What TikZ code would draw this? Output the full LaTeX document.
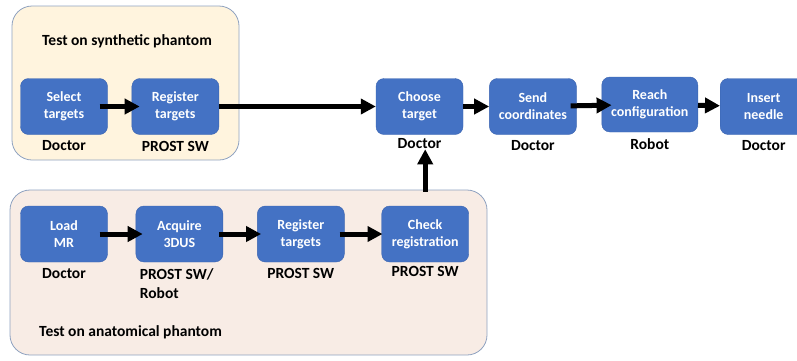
\documentclass[tikz,border=0pt]{standalone}
\usepackage{fontspec}
\setmainfont{Carlito}
\usetikzlibrary{arrows.meta,positioning,backgrounds}
\definecolor{boxblue}{HTML}{4472C4}
\definecolor{boxedge}{HTML}{3B64B0}
\definecolor{cream}{HTML}{FFF4DE}
\definecolor{peach}{HTML}{F8ECE5}
\definecolor{frame}{HTML}{8FA2C0}
\tikzset{
  task/.style={rectangle,rounded corners=8pt,draw=boxedge,fill=boxblue,
               minimum width=87pt,minimum height=56pt,
               font=\fontsize{14}{17}\selectfont\bfseries,align=center,
               text=white,inner sep=2pt},
  who/.style={font=\fontsize{15.5}{19}\selectfont\bfseries,inner sep=0pt},
  ttl/.style={font=\fontsize{15.5}{18}\selectfont\bfseries,inner sep=0pt},
  arr/.style={-{Triangle[length=15pt,width=15pt]},line width=5pt},
  grp/.style={rounded corners=20pt,draw=frame,fill=#1,line width=0.8pt},
}
\begin{document}
\begin{tikzpicture}[x=1pt,y=-1pt,node distance=24pt]
  \useasboundingbox (0,0) rectangle (797,360);

  %% ── synthetic phantom steps ──────────────────────────────────────────────
  \node[task] (sel) at (64,106.5) {Select\\targets};
  \node[task,right=24pt of sel] (regA) {Register\\targets};

  %% ── common steps ─────────────────────────────────────────────────────────
  \node[task] (choose) at (419.5,106.5) {Choose\\target};
  \node[task,right=26pt of choose] (send) {Send\\coordinates};
  \node[task,right=25pt of send,minimum width=96pt,minimum height=55pt,
        yshift=2pt] (reach) {Reach\\configuration};
  \node[task,right=22pt of reach,yshift=-2pt] (insert) {Insert\\needle};

  %% ── anatomical phantom steps ─────────────────────────────────────────────
  \node[task] (load) at (64,234) {Load\\MR};
  \node[task,right=28pt of load] (acq) {Acquire\\3DUS};
  \node[task,right=34pt of acq] (regB) {Register\\targets};
  \node[task,right=37pt of regB] (check) {Check\\registration};

  %% ── who does it ──────────────────────────────────────────────────────────
  \node[who,below=6pt of sel]    (selw)    {Doctor};
  \node[who,below=6pt of regA]   (regAw)   {PROST SW};
  \node[who,below=4pt of choose] (choosew) {Doctor};
  \node[who,below=6pt of send]   (sendw)   {Doctor};
  \node[who,below=6pt of reach]  (reachw)  {Robot};
  \node[who,below=6pt of insert] (insertw) {Doctor};
  \node[who,below=6pt of load]   (loadw)   {Doctor};
  \node[who,align=left,below right=6pt and 4pt of acq.south west]
        (acqw) {PROST SW/\\Robot};
  \node[who,below=6pt of regB]   (regBw)   {PROST SW};
  \node[who,below=4pt of check]  (checkw)  {PROST SW};

  %% ── group titles ─────────────────────────────────────────────────────────
  \node[ttl] (synth) at (127,41) {Test on synthetic phantom};
  \node[ttl,anchor=west] (anat) at (39,332) {Test on anatomical phantom};

  %% ── arrows ───────────────────────────────────────────────────────────────
  \draw[arr,shorten <=-8pt,shorten >=-8pt] (sel) -- (regA);
  \draw[arr] (regA) -- (choose);
  \draw[arr] (choose) -- (send);
  \draw[arr,shorten <=-6pt,shorten >=-10pt] (send) -- (reach);
  \draw[arr] (reach) -- (insert);
  \draw[arr,shorten <=-8pt,shorten >=-7pt] (load) -- (acq);
  \draw[arr,shorten <=-4pt,shorten >=-4pt] (acq) -- (regB);
  \draw[arr,shorten <=-5pt,shorten >=-1pt] (regB) -- (check);
  \draw[arr,shorten <=14pt] (check.north) -- (check.north |- choosew.south);

  %% ── group boxes ──────────────────────────────────────────────────────────
  \begin{scope}[on background layer]
    \draw[grp=cream] (12,6) rectangle (239,160);
    \draw[grp=peach] (10,190) rectangle (487,355);
  \end{scope}

\end{tikzpicture}
\end{document}
